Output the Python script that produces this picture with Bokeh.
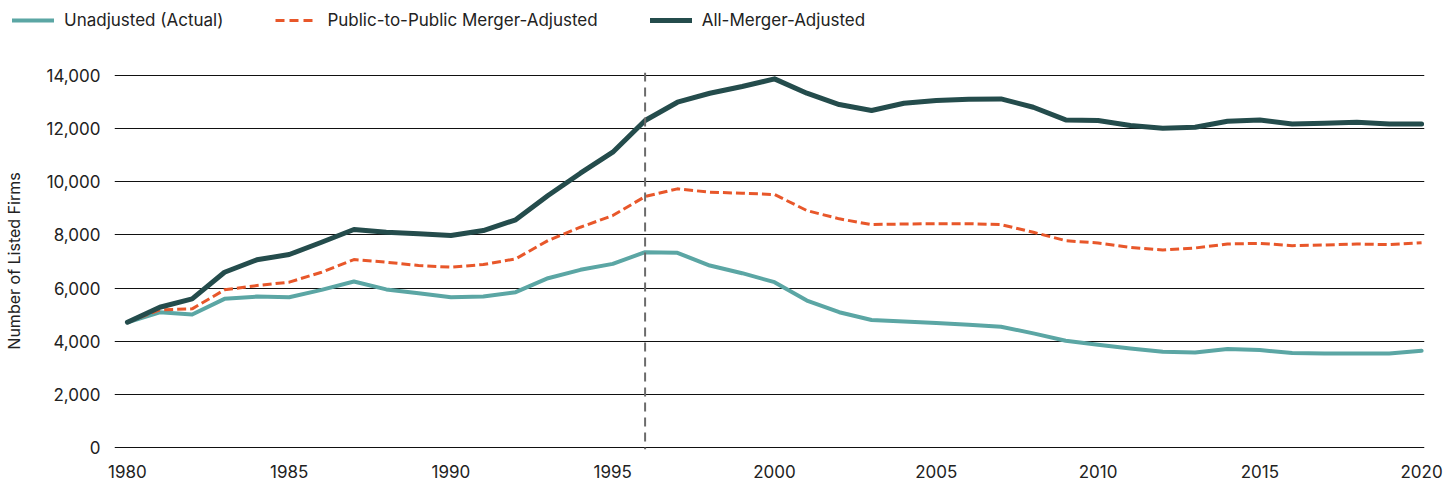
from bokeh.plotting import figure
from bokeh.layouts import column
from bokeh.models import Span, Legend, LegendItem, NumeralTickFormatter, FixedTicker, Range1d
from bokeh.embed import file_html
from bokeh.resources import INLINE

years = list(range(1980, 2021))
unadjusted = [4715, 5090, 5005, 5595, 5680, 5657, 5934, 6247, 5950, 5808,
              5657, 5682, 5845, 6372, 6687, 6912, 7351, 7326, 6849, 6560,
              6222, 5532, 5092, 4800, 4746, 4683, 4620, 4545, 4294, 4018,
              3867, 3729, 3603, 3578, 3704, 3666, 3553, 3541, 3541, 3541, 3641]
public_adj = [4715, 5180, 5218, 5934, 6096, 6222, 6597, 7074, 6974, 6849,
              6786, 6887, 7100, 7790, 8290, 8730, 9445, 9734, 9608, 9570,
              9520, 8918, 8606, 8390, 8412, 8425, 8425, 8387, 8098, 7784,
              7696, 7533, 7433, 7508, 7659, 7684, 7596, 7621, 7659, 7634, 7709]
all_adj = [4715, 5280, 5595, 6597, 7063, 7263, 7726, 8203, 8103, 8040,
           7977, 8166, 8568, 9483, 10323, 11114, 12305, 12995, 13333, 13584,
           13873, 13333, 12907, 12681, 12957, 13057, 13107, 13120, 12806, 12329,
           12304, 12116, 12015, 12053, 12279, 12329, 12178, 12203, 12241, 12178, 12178]
x_ticks = [1980, 1985, 1990, 1995, 2000, 2005, 2010, 2015, 2020]
y_ticks = [0, 2000, 4000, 6000, 8000, 10000, 12000, 14000]
marker_year = 1996
labels = ["Unadjusted (Actual)", "Public-to-Public Merger-Adjusted", "All-Merger-Adjusted"]

FONT = "Inter"
TEXT = "#222222"
C_UN = "#5BA6A4"
C_PUB = "#E8572A"
C_ALL = "#244C4C"

# ---------- main chart ----------
p = figure(width=1444, height=447, output_backend="svg", toolbar_location=None,
           x_range=Range1d(1979.6, 2020.09), y_range=Range1d(-75, 14113),
           min_border_left=111, min_border_right=20, min_border_top=32, min_border_bottom=38)
p.frame_align = False
p.outline_line_color = None
p.background_fill_color = "white"
p.border_fill_color = "white"

p.xgrid.grid_line_color = None
p.ygrid.grid_line_color = "#111111"
p.ygrid.grid_line_width = 1
p.ygrid.ticker = FixedTicker(ticks=y_ticks)

p.xaxis.ticker = FixedTicker(ticks=x_ticks)
p.yaxis.ticker = FixedTicker(ticks=y_ticks)
p.yaxis.formatter = NumeralTickFormatter(format="0,0")
for ax in (p.xaxis[0], p.yaxis[0]):
    ax.axis_line_color = None
    ax.major_tick_line_color = None
    ax.minor_tick_line_color = None
    ax.major_label_text_font = FONT
    ax.major_label_text_font_size = "17px"
    ax.major_label_text_color = TEXT
p.xaxis.major_label_standoff = 9
p.yaxis.major_label_standoff = 8
p.yaxis.axis_label = "Number of Listed Firms"
p.yaxis.axis_label_text_font = FONT
p.yaxis.axis_label_text_font_size = "16px"
p.yaxis.axis_label_text_font_style = "normal"
p.yaxis.axis_label_text_color = TEXT
p.yaxis.axis_label_standoff = 20

span = Span(location=marker_year, dimension="height", line_color="#6b6b6b",
            line_width=2, line_dash="9 6")
p.add_layout(span)

p.line(years, unadjusted, line_color=C_UN, line_width=4, line_join="round", line_cap="round")
p.line(years, public_adj, line_color=C_PUB, line_width=3, line_dash="9 4", line_join="round")
p.line(years, all_adj, line_color=C_ALL, line_width=5, line_join="round", line_cap="round")

# ---------- legend strip (legend keys only; helper glyphs sit outside the visible range) ----------
lg = figure(width=1444, height=40, output_backend="svg", toolbar_location=None,
            x_range=Range1d(0, 1), y_range=Range1d(0, 1),
            x_axis_location=None, y_axis_location=None,
            min_border_left=0, min_border_right=0, min_border_top=0, min_border_bottom=0)
lg.frame_align = False
lg.grid.visible = False
lg.outline_line_color = None
lg.border_fill_color = "white"
lg.background_fill_color = "white"
off = [-3, -2]
l1 = lg.line(off, off, line_color=C_UN, line_width=4, line_cap="round")
l2 = lg.line(off, off, line_color=C_PUB, line_width=3, line_dash="9 5")
l3 = lg.line(off, off, line_color=C_ALL, line_width=5, line_cap="round")
legend = Legend(items=[LegendItem(label=labels[0], renderers=[l1]),
                       LegendItem(label=labels[1], renderers=[l2]),
                       LegendItem(label=labels[2], renderers=[l3])],
                orientation="horizontal", location=(12, 10),
                border_line_color=None, background_fill_alpha=0,
                glyph_width=42, glyph_height=20, label_standoff=10, spacing=52,
                padding=0, margin=0,
                label_text_font=FONT, label_text_font_size="17px", label_text_color=TEXT)
lg.add_layout(legend, "center")

layout = column(lg, p, spacing=0)
html = file_html(layout, INLINE)
open("out.html", "w").write(html)
